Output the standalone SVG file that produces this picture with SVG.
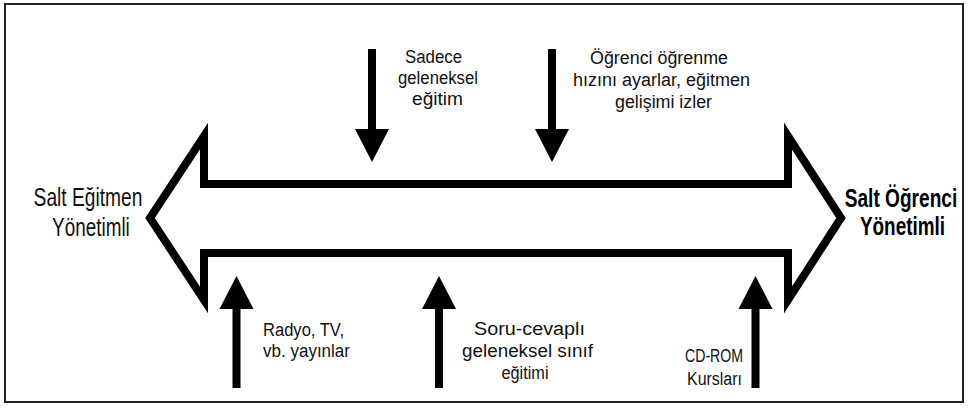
<svg xmlns="http://www.w3.org/2000/svg" width="969" height="414" viewBox="0 0 969 414">
  <style>
    text { font-family: "Liberation Sans", Arial, sans-serif; fill: #111; }
    .side { font-size: 25px; }
    .side-bold { font-size: 25px; font-weight: bold; fill: #000; }
    .note { font-size: 18px; }
    .frame { fill: none; stroke: #222; stroke-width: 2; }
    .band { fill: #fff; stroke: #000; stroke-width: 8; stroke-linejoin: miter; }
    .shaft { stroke: #000; stroke-width: 8; }
    .head { fill: #000; }
  </style>

  <!-- outer frame -->
  <rect class="frame" x="5" y="4" width="958" height="398"/>

  <!-- double-headed spectrum arrow -->
  <g id="spectrum">
    <polygon class="band" points="150,218 204,136 204,184 788,184 788,136 841,218 788,300 788,253 204,253 204,300"/>
  </g>

  <!-- end labels, set in a narrowed face -->
  <g id="end-teacher" transform="translate(88,0) scale(0.74,1)">
    <text class="side" x="0" y="206" text-anchor="middle" textLength="147" lengthAdjust="spacingAndGlyphs">Salt Eğitmen</text>
    <text class="side" x="4" y="236" text-anchor="middle" textLength="105" lengthAdjust="spacingAndGlyphs">Yönetimli</text>
  </g>

  <g id="end-student" transform="translate(901,0) scale(0.74,1)">
    <text class="side-bold" x="0" y="207" text-anchor="middle" textLength="152" lengthAdjust="spacingAndGlyphs">Salt Öğrenci</text>
    <text class="side-bold" x="2" y="235" text-anchor="middle" textLength="115" lengthAdjust="spacingAndGlyphs">Yönetimli</text>
  </g>

  <!-- pointer arrows -->
  <g id="connectors">
    <line class="shaft" x1="372" y1="49" x2="372" y2="131"/>
    <polygon class="head" points="355,129 389,129 372,162"/>

    <line class="shaft" x1="552" y1="49" x2="552" y2="131"/>
    <polygon class="head" points="535,129 569,129 552,162"/>

    <line class="shaft" x1="236.5" y1="307" x2="236.5" y2="388"/>
    <polygon class="head" points="219.5,309 253.5,309 236.5,276"/>

    <line class="shaft" x1="439" y1="307" x2="439" y2="388"/>
    <polygon class="head" points="422,309 456,309 439,276"/>

    <line class="shaft" x1="755.5" y1="307" x2="755.5" y2="388"/>
    <polygon class="head" points="738.5,309 772.5,309 755.5,276"/>
  </g>

  <g id="traditional">
    <text class="note" x="433.5" y="63" text-anchor="middle" textLength="57" lengthAdjust="spacingAndGlyphs">Sadece</text>
    <text class="note" x="438" y="84" text-anchor="middle" textLength="80" lengthAdjust="spacingAndGlyphs">geleneksel</text>
    <text class="note" x="437.5" y="105" text-anchor="middle" textLength="51" lengthAdjust="spacingAndGlyphs">eğitim</text>
  </g>

  <g id="self-paced">
    <text class="note" x="659" y="64" text-anchor="middle" textLength="138" lengthAdjust="spacingAndGlyphs">Öğrenci öğrenme</text>
    <text class="note" x="661.5" y="86" text-anchor="middle" textLength="177" lengthAdjust="spacingAndGlyphs">hızını ayarlar, eğitmen</text>
    <text class="note" x="663.5" y="108" text-anchor="middle" textLength="97" lengthAdjust="spacingAndGlyphs">gelişimi izler</text>
  </g>

  <g id="broadcast">
    <text class="note" x="263" y="336" textLength="81" lengthAdjust="spacingAndGlyphs">Radyo, TV,</text>
    <text class="note" x="263" y="357" textLength="87" lengthAdjust="spacingAndGlyphs">vb. yayınlar</text>
  </g>

  <g id="classroom">
    <text class="note" x="529.5" y="335" text-anchor="middle" textLength="111" lengthAdjust="spacingAndGlyphs">Soru-cevaplı</text>
    <text class="note" x="527.5" y="357" text-anchor="middle" textLength="131" lengthAdjust="spacingAndGlyphs">geleneksel sınıf</text>
    <text class="note" x="525" y="379" text-anchor="middle" textLength="47" lengthAdjust="spacingAndGlyphs">eğitimi</text>
  </g>

  <g id="cdrom">
    <text class="note" x="714" y="362" text-anchor="middle" textLength="58" lengthAdjust="spacingAndGlyphs">CD-ROM</text>
    <text class="note" x="714.5" y="385" text-anchor="middle" textLength="55" lengthAdjust="spacingAndGlyphs">Kursları</text>
  </g>
</svg>
